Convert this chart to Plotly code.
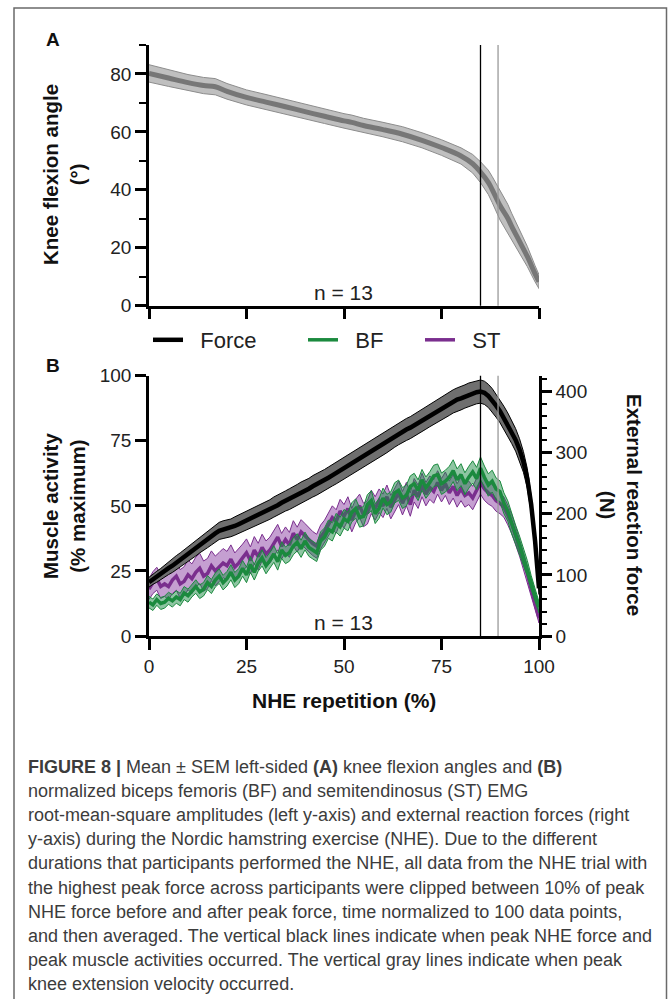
import numpy as np
import plotly.graph_objects as go

W, H = 669, 999

# ---- panel A: knee flexion angle (deg), mean and SEM
angle_pct = [0, 5, 10, 14, 17, 20, 25, 30, 35, 40, 45, 50, 52, 55, 60, 65, 70, 75,
             80, 83, 85, 87, 88, 90, 92, 93, 95, 97, 99, 100]
angle_mean = [80.2, 78.6, 77.0, 76.0, 75.6, 74.0, 71.9, 70.3, 68.7, 67.0, 65.4, 63.8, 63.3,
              62.2, 60.8, 59.2, 57.1, 54.6, 51.7, 49.0, 46.1, 42.6, 40.1, 34.6, 30.2, 27.4,
              22.2, 17.0, 11.0, 8.3]
angle_sem = [3.0, 2.9, 2.8, 2.8, 2.8, 2.7, 2.6, 2.6, 2.5, 2.5, 2.5, 2.5, 2.5, 2.5, 2.5,
             2.6, 2.6, 2.7, 2.8, 3.2, 3.6, 4.2, 4.5, 5.0, 4.8, 4.5, 4.0, 3.5, 2.8, 2.4]

# ---- panel B: EMG (% max) and external reaction force (N), 0..100 %
pct = list(range(101))
bf_mean = [13, 12, 14, 12.5, 13, 14.5, 13.5, 15, 14, 16.5,
           15.5, 17.5, 19, 17, 18, 20.5, 19, 21.5, 23, 20.5,
           22, 24.5, 21.5, 23, 26, 23.5, 27.5, 24.5, 28, 30,
           27, 29, 31.5, 28.5, 33, 31, 32, 34.5, 36, 33.5,
           36.5, 34, 33, 32, 36.5, 38, 41, 40, 43.5, 42,
           45, 44, 47.5, 49, 45.5, 46, 50.5, 52, 47, 49,
           53, 50.5, 51.5, 55, 56, 53, 54, 57.5, 58.5, 56,
           60, 57, 59, 61.5, 62, 58.5, 59.5, 61, 63.5, 60,
           62, 58.5, 61, 63, 60.5, 64.5, 61, 58, 59.5, 56.5,
           55.5, 51, 48, 43, 39, 35, 30.5, 26, 20.5, 15.5,
           11]
bf_sem = [2.2, 2.2, 2.2, 2.3, 2.3, 2.3, 2.4, 2.4, 2.4, 2.5,
          2.5, 2.5, 2.6, 2.6, 2.6, 2.7, 2.7, 2.7, 2.8, 2.8,
          2.8, 2.9, 2.9, 2.9, 3.0, 3.0, 3.0, 3.0, 3.1, 3.1,
          3.1, 3.1, 3.2, 3.2, 3.2, 3.2, 3.3, 3.3, 3.3, 3.3,
          3.4, 3.4, 3.4, 3.4, 3.5, 3.5, 3.5, 3.5, 3.6, 3.6,
          3.6, 3.6, 3.7, 3.7, 3.7, 3.7, 3.8, 3.8, 3.8, 3.8,
          3.8, 3.9, 3.9, 3.9, 3.9, 4.0, 4.0, 4.0, 4.0, 4.0,
          4.0, 4.1, 4.1, 4.1, 4.1, 4.1, 4.2, 4.2, 4.2, 4.2,
          4.2, 4.2, 4.2, 4.3, 4.3, 4.3, 4.3, 4.3, 4.2, 4.2,
          4.1, 4.0, 3.9, 3.8, 3.6, 3.4, 3.2, 3.0, 2.7, 2.4,
          2.1]
st_mean = [18, 20.5, 22, 19, 20, 19, 21.5, 23, 20, 21,
           23.5, 22, 24.5, 26, 23, 24, 27, 25, 26.5, 28,
           27, 29.5, 26.5, 28, 30, 32, 29, 33, 30.5, 34,
           31.5, 33, 35.5, 38, 34.5, 37, 35, 39.5, 37, 40,
           38.5, 37, 35.5, 34.5, 38, 40, 43, 45.5, 44, 48,
           46, 49, 44.5, 48, 50, 46.5, 47.5, 51.5, 49, 52,
           50, 53.5, 49.5, 52, 55, 51, 54.5, 50.5, 56, 53.5,
           58, 54.5, 57, 55.5, 59, 56, 58.5, 55, 57.5, 54,
           56.5, 54, 55, 53, 56, 59, 56.5, 55, 54, 52,
           51, 49.5, 46.5, 43, 38.5, 34, 29, 24, 18, 12.5,
           7]
st_sem = [4.0, 4.2, 4.4, 4.6, 4.8, 5.0, 5.2, 5.4, 5.5, 5.6,
          5.7, 5.7, 5.8, 5.8, 5.8, 5.8, 5.7, 5.7, 5.6, 5.6,
          5.5, 5.5, 5.4, 5.4, 5.3, 5.3, 5.2, 5.2, 5.1, 5.1,
          5.0, 5.0, 5.0, 4.9, 4.9, 4.9, 4.8, 4.8, 4.8, 4.7,
          4.7, 4.7, 4.6, 4.6, 4.6, 4.5, 4.5, 4.5, 4.5, 4.5,
          4.5, 4.5, 4.5, 4.5, 4.5, 4.5, 4.5, 4.5, 4.5, 4.5,
          4.5, 4.5, 4.5, 4.5, 4.5, 4.5, 4.5, 4.5, 4.5, 4.5,
          4.5, 4.5, 4.5, 4.5, 4.5, 4.5, 4.5, 4.5, 4.5, 4.5,
          4.5, 4.5, 4.5, 4.5, 4.5, 4.5, 4.4, 4.3, 4.2, 4.1,
          4.0, 3.9, 3.8, 3.7, 3.5, 3.3, 3.1, 2.9, 2.6, 2.3,
          2.0]
force_mean = [88, 93, 97, 101, 106, 111, 115, 120, 124, 129,
              134, 139, 144, 149, 154, 158, 163, 168, 172, 174,
              175, 177, 180, 183, 186, 189, 192, 195, 198, 201,
              204, 207, 211, 214, 218, 221, 224, 227, 231, 235,
              238, 241, 245, 248, 251, 255, 259, 263, 267, 271,
              275, 279, 283, 287, 290, 294, 298, 302, 306, 310,
              314, 318, 322, 327, 331, 335, 338, 341, 345, 349,
              353, 357, 361, 365, 368, 372, 376, 380, 384, 387,
              389, 392, 395, 397, 399, 400, 398, 393, 386, 377,
              368, 357, 346, 334, 321, 305, 285, 258, 215, 155,
              78]
force_sem = [8, 8.5, 9, 9.5, 10, 10.5, 11, 11.5, 12, 12,
             12.5, 12.5, 13, 13, 13.5, 13.5, 14, 14, 14, 14.5,
             14.5, 14.5, 15, 15, 15, 15.5, 15.5, 15.5, 16, 16,
             16, 16, 16.5, 16.5, 16.5, 16.5, 17, 17, 17, 17,
             17, 17, 17.5, 17.5, 17.5, 17.5, 17.5, 17.5, 18, 18,
             18, 18, 18, 18, 18, 18, 18, 18, 18, 18,
             18, 18, 18, 18, 18, 18, 18, 18, 18, 18,
             18.5, 18.5, 18.5, 18.5, 18.5, 18.5, 18.5, 19, 19, 19,
             19, 19, 19, 19, 19, 19, 19, 19, 19, 19,
             19, 19, 19, 19, 18.5, 18, 17, 16, 14, 12,
             10]

peak_force_pct = 85
peak_velocity_pct = 89.5
n_participants = 13

caption_lines = [
    "<b>FIGURE 8 |</b> Mean ± SEM left-sided <b>(A)</b> knee flexion angles and <b>(B)</b>",
    "normalized biceps femoris (BF) and semitendinosus (ST) EMG",
    "root-mean-square amplitudes (left y-axis) and external reaction forces (right",
    "y-axis) during the Nordic hamstring exercise (NHE). Due to the different",
    "durations that participants performed the NHE, all data from the NHE trial with",
    "the highest peak force across participants were clipped between 10% of peak",
    "NHE force before and after peak force, time normalized to 100 data points,",
    "and then averaged. The vertical black lines indicate when peak NHE force and",
    "peak muscle activities occurred. The vertical gray lines indicate when peak",
    "knee extension velocity occurred.",
]

FONT = "Liberation Sans, Arial, sans-serif"


def px(x):
    return x / W


def py(y):
    return 1 - y / H


def band(x, mean, sem):
    m, s = np.array(mean, float), np.array(sem, float)
    return list(x) + list(x)[::-1], list(m + s) + list(m - s)[::-1]


fig = go.Figure()

# panel A
bx, by = band(angle_pct, angle_mean, angle_sem)
fig.add_trace(go.Scatter(x=bx, y=by, fill="toself", fillcolor="#bfbfbf",
                         line=dict(color="#8c8c8c", width=1), mode="lines",
                         showlegend=False, hoverinfo="skip", xaxis="x", yaxis="y"))
fig.add_trace(go.Scatter(x=angle_pct, y=angle_mean, mode="lines",
                         line=dict(color="#777777", width=5, shape="spline"),
                         showlegend=False, xaxis="x", yaxis="y"))

# panel B: force on right axis
bx, by = band(pct, force_mean, force_sem)
fig.add_trace(go.Scatter(x=bx, y=by, fill="toself", fillcolor="#6f6f6f",
                         line=dict(color="#000000", width=1), mode="lines",
                         showlegend=False, hoverinfo="skip", xaxis="x2", yaxis="y3"))
fig.add_trace(go.Scatter(x=pct, y=force_mean, mode="lines", name="&nbsp;&nbsp;Force",
                         line=dict(color="#000000", width=4.5), legend="legend",
                         xaxis="x2", yaxis="y3"))

# ST first, BF drawn on top
bx, by = band(pct, st_mean, st_sem)
fig.add_trace(go.Scatter(x=bx, y=by, fill="toself", fillcolor="rgba(150,80,172,0.55)",
                         line=dict(color="#7a2e8e", width=1), mode="lines",
                         showlegend=False, hoverinfo="skip", xaxis="x2", yaxis="y2"))
fig.add_trace(go.Scatter(x=pct, y=st_mean, mode="lines", name="&nbsp;&nbsp;ST",
                         line=dict(color="#7a2e8e", width=3.5), legend="legend3",
                         xaxis="x2", yaxis="y2"))
bx, by = band(pct, bf_mean, bf_sem)
fig.add_trace(go.Scatter(x=bx, y=by, fill="toself", fillcolor="rgba(30,140,70,0.5)",
                         line=dict(color="#1b8a3e", width=1), mode="lines",
                         showlegend=False, hoverinfo="skip", xaxis="x2", yaxis="y2"))
fig.add_trace(go.Scatter(x=pct, y=bf_mean, mode="lines", name="&nbsp;&nbsp;BF",
                         line=dict(color="#1b8a3e", width=3.5), legend="legend2",
                         xaxis="x2", yaxis="y2"))

# event lines (peak force = black, peak knee velocity = gray)
for xr, yr in (("x", "y domain"), ("x2", "y2 domain")):
    fig.add_shape(type="line", xref=xr, yref=yr, x0=peak_force_pct, x1=peak_force_pct,
                  y0=0, y1=1, line=dict(color="#000000", width=1.3))
    fig.add_shape(type="line", xref=xr, yref=yr, x0=peak_velocity_pct, x1=peak_velocity_pct,
                  y0=0, y1=1, line=dict(color="#9a9a9a", width=1.3))

# outer frame
fig.add_shape(type="rect", xref="paper", yref="paper", x0=px(14), x1=px(666.5), y0=-0.05, y1=py(8),
              line=dict(color="#6a6a6a", width=1.5), layer="below")

xdom = [px(149), px(539)]
tickfont = dict(family=FONT, size=19, color="#222222")
axis_common = dict(showline=True, linecolor="black", linewidth=2.5, ticks="outside",
                   tickcolor="black", tickwidth=2.5, showgrid=False, zeroline=False,
                   automargin=False, tickfont=tickfont)

fig.update_layout(
    template="none",
    width=W, height=H, autosize=False,
    margin=dict(l=0, r=0, t=0, b=0, pad=0, autoexpand=False),
    paper_bgcolor="white", plot_bgcolor="rgba(0,0,0,0)",
    font=dict(family=FONT, size=19, color="#222222"),
    xaxis=dict(domain=xdom, range=[0, 100], tickvals=[0, 25, 50, 75, 100], showticklabels=False,
               ticklen=11, anchor="y", **axis_common),
    yaxis=dict(domain=[py(305.7), py(45)], range=[0, 90], tickvals=[0, 20, 40, 60, 80], ticklen=11,
               minor=dict(dtick=10, ticklen=7, tickwidth=2, ticks="outside", tickcolor="black"),
               anchor="x", **axis_common),
    xaxis2=dict(domain=xdom, range=[0, 100], tickvals=[0, 25, 50, 75, 100], ticklen=11,
                anchor="y2", **axis_common),
    yaxis2=dict(domain=[py(636), py(375.7)], range=[0, 100], tickvals=[0, 25, 50, 75, 100], ticklen=11,
                anchor="x2", **axis_common),
    yaxis3=dict(range=[0, 426], tickvals=[0, 100, 200, 300, 400], ticklen=10, overlaying="y2",
                side="right", anchor="x2",
                minor=dict(dtick=20, ticklen=5, tickwidth=2, ticks="outside", tickcolor="black"),
                **axis_common),
)

leg_common = dict(orientation="h", yanchor="middle", xanchor="left", bgcolor="rgba(0,0,0,0)",
                  borderwidth=0, font=dict(family=FONT, size=22, color="#222222"))
fig.update_layout(
    legend=dict(x=px(148), y=py(340), **leg_common),
    legend2=dict(x=px(303), y=py(340), **leg_common),
    legend3=dict(x=px(420), y=py(340), **leg_common),
)

ann = []
title_font = dict(family=FONT, size=20.5, color="#111111")
ann.append(dict(text="<b>A</b>", x=px(53), y=py(39), font=dict(family=FONT, size=19, color="#111111")))
ann.append(dict(text="<b>B</b>", x=px(53), y=py(366), font=dict(family=FONT, size=19, color="#111111")))
ann.append(dict(text="<b>Knee flexion angle<br>(°)</b>", x=px(64), y=py(175), textangle=-90, font=title_font))
ann.append(dict(text="<b>Muscle activity<br>(% maximum)</b>", x=px(64), y=py(506), textangle=-90, font=title_font))
ann.append(dict(text="<b>External reaction force<br>(N)</b>", x=px(621), y=py(505), textangle=90, font=title_font))
ann.append(dict(text="<b>NHE repetition (%)</b>", x=px(344), y=py(700), font=dict(family=FONT, size=21, color="#111111")))
for yy in (292, 622):
    ann.append(dict(text=f"n = {n_participants}", x=px(343), y=py(yy), font=dict(family=FONT, size=21, color="#222222")))
for i, line in enumerate(caption_lines):
    ann.append(dict(text=line, x=px(26), y=py(767 + i * 24.1), xanchor="left",
                    font=dict(family=FONT, size=18, color="#3c3c3c")))
for a in ann:
    a.setdefault("xanchor", "center")
    a.update(xref="paper", yref="paper", yanchor="middle", showarrow=False)
fig.update_layout(annotations=ann)

# the page body has an 8px default margin and would scroll; pin the figure to the window
page_fix = ("document.documentElement.style.overflow='hidden';"
            "document.body.style.overflow='hidden';document.body.style.margin='0';")
fig.write_html("out.html", config={"displayModeBar": False, "responsive": False},
               post_script=page_fix)
